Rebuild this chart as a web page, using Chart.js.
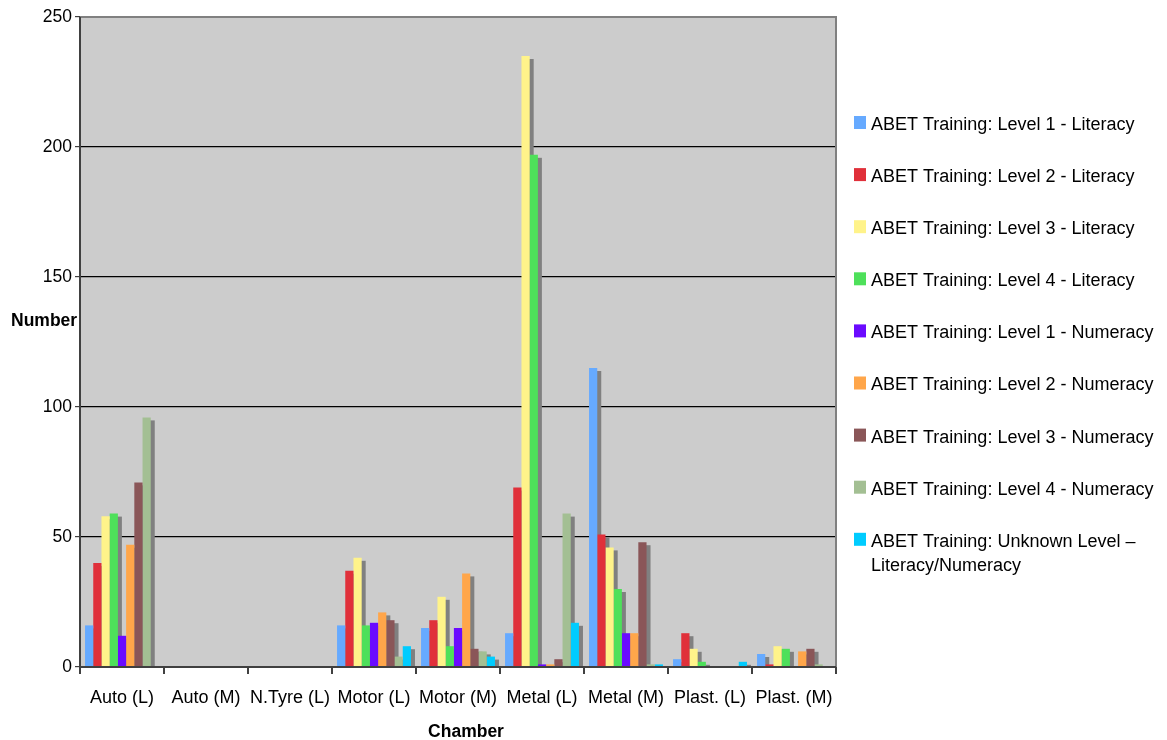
<!DOCTYPE html>
<html>
<head>
<meta charset="utf-8">
<title>ABET Training by Chamber</title>
<script src="https://cdn.jsdelivr.net/npm/chart.js@4/dist/chart.umd.min.js"></script>
<style>
  html, body { margin: 0; padding: 0; background: #ffffff; }
  #wrap { width: 1167px; height: 740px; position: relative; }
</style>
</head>
<body>
<div id="wrap"><canvas id="chart" width="1167" height="740"></canvas></div>
<script>
// Chambers along the x axis
const chambers = ['Auto (L)', 'Auto (M)', 'N.Tyre (L)', 'Motor (L)', 'Motor (M)', 'Metal (L)', 'Metal (M)', 'Plast. (L)', 'Plast. (M)'];

// Number of people per training level, one value per chamber
const level1Literacy  = [16, 0, 0, 16, 15, 13, 115, 3, 5];
const level2Literacy  = [40, 0, 0, 37, 18, 69, 51, 13, 1];
const level3Literacy  = [58, 0, 0, 42, 27, 235, 46, 7, 8];
const level4Literacy  = [59, 0, 0, 16, 8, 197, 30, 2, 7];
const level1Numeracy  = [12, 0, 0, 17, 15, 1, 13, 0, 0];
const level2Numeracy  = [47, 0, 0, 21, 36, 1, 13, 0, 6];
const level3Numeracy  = [71, 0, 0, 18, 7, 3, 48, 0, 7];
const level4Numeracy  = [96, 0, 0, 4, 6, 59, 1, 0, 1];
const unknownLevel    = [0, 0, 0, 8, 4, 17, 1, 2, 0];

const seriesLabels = [
  'ABET Training: Level 1 - Literacy',
  'ABET Training: Level 2 - Literacy',
  'ABET Training: Level 3 - Literacy',
  'ABET Training: Level 4 - Literacy',
  'ABET Training: Level 1 - Numeracy',
  'ABET Training: Level 2 - Numeracy',
  'ABET Training: Level 3 - Numeracy',
  'ABET Training: Level 4 - Numeracy',
  'ABET Training: Unknown Level \u2013 Literacy/Numeracy'
];
const seriesValues = [level1Literacy, level2Literacy, level3Literacy, level4Literacy,
  level1Numeracy, level2Numeracy, level3Numeracy, level4Numeracy, unknownLevel];
const seriesColors = ['#66aaff', '#e0303a', '#fff38a', '#4ee05a', '#6a0aff', '#ffa64a', '#8a5658', '#a3bf93', '#00ccff'];

const yTicks = [0, 50, 100, 150, 200, 250];

const FONT = '"Liberation Sans", Arial, sans-serif';

// Gray plot background, drop shadows behind bars, plot frame, titles and legend
const decor = {
  id: 'decor',
  beforeDraw(chart) {
    const { ctx, chartArea: a } = chart;
    ctx.save();
    ctx.fillStyle = '#cccccc';
    ctx.fillRect(a.left, a.top, a.right - a.left, a.bottom - a.top);
    ctx.restore();
  },
  beforeDatasetsDraw(chart) {
    // all shadows first, so every bar sits on top of its neighbour's shadow
    const { ctx, chartArea: a } = chart;
    ctx.save();
    ctx.beginPath();
    ctx.rect(a.left, a.top, a.right - a.left, a.bottom - a.top);
    ctx.clip();
    ctx.fillStyle = '#808080';
    chart.data.datasets.forEach((ds, i) => {
      chart.getDatasetMeta(i).data.forEach(bar => {
        const p = bar.getProps(['x', 'y', 'base', 'width'], true);
        const h = p.base - p.y;
        if (h <= 0) return;
        ctx.fillRect(p.x - p.width / 2 + 4, p.y + 3, p.width, h);
      });
    });
    ctx.restore();
  },
  afterDatasetsDraw(chart) {
    const { ctx, chartArea: a } = chart;
    ctx.save();
    ctx.strokeStyle = '#808080';
    ctx.lineWidth = 2;
    ctx.beginPath();
    ctx.moveTo(a.left, a.top);
    ctx.lineTo(a.right, a.top);
    ctx.lineTo(a.right, a.bottom);
    ctx.stroke();
    ctx.strokeStyle = '#404040';
    ctx.beginPath();
    ctx.moveTo(a.left, a.top);
    ctx.lineTo(a.left, a.bottom);
    ctx.lineTo(a.right, a.bottom);
    ctx.stroke();
    ctx.restore();
  },
  afterDraw(chart) {
    const { ctx, chartArea: a } = chart;
    ctx.save();
    ctx.fillStyle = '#000000';
    ctx.textBaseline = 'middle';
    // axis titles
    ctx.font = 'bold 17.5px ' + FONT;
    ctx.textAlign = 'left';
    ctx.fillText('Number', 11, 321);
    ctx.textAlign = 'center';
    ctx.fillText('Chamber', (a.left + a.right) / 2 + 8, 732);
    // legend
    ctx.font = '18px ' + FONT;
    ctx.textAlign = 'left';
    const x0 = 854, y0 = 124, step = 52.1;
    chart.data.datasets.forEach((ds, i) => {
      const y = y0 + i * step;
      ctx.fillStyle = ds.backgroundColor;
      ctx.fillRect(x0, y - 8, 12, 13);
      ctx.fillStyle = '#000000';
      const parts = ds.label.split(' \u2013 ');
      if (parts.length > 1) {
        ctx.fillText(parts[0] + ' \u2013', x0 + 17, y + 1);
        ctx.fillText(parts[1], x0 + 17, y + 25);
      } else {
        ctx.fillText(ds.label, x0 + 17, y + 1);
      }
    });
    ctx.restore();
  }
};

new Chart(document.getElementById('chart'), {
  type: 'bar',
  data: {
    labels: chambers,
    datasets: seriesValues.map((vals, i) => ({
      label: seriesLabels[i],
      data: vals,
      backgroundColor: seriesColors[i],
      borderWidth: 0,
      barPercentage: 1.0,
      categoryPercentage: 0.88
    }))
  },
  options: {
    responsive: false,
    animation: false,
    layout: { padding: { left: 0, right: 331, top: 17, bottom: 0 } },
    plugins: {
      legend: { display: false },
      tooltip: { enabled: false }
    },
    scales: {
      x: {
        offset: true,
        grid: {
          offset: true,
          drawOnChartArea: false,
          tickLength: 7,
          tickColor: '#404040',
          lineWidth: 2
        },
        border: { display: false },
        ticks: {
          color: '#000000',
          font: { family: FONT, size: 18 },
          padding: 13,
          maxRotation: 0,
          autoSkip: false
        },
        afterFit(scale) { scale.height = 73; }
      },
      y: {
        min: 0,
        max: 250,
        afterBuildTicks(scale) { scale.ticks = yTicks.map(v => ({ value: v })); },
        grid: {
          color: ctx => (ctx.tick && (ctx.tick.value === 0 || ctx.tick.value === 250)) ? 'rgba(0,0,0,0)' : '#000000',
          tickColor: '#404040',
          tickLength: 5,
          lineWidth: 1.2
        },
        border: { display: false },
        ticks: {
          color: '#000000',
          font: { family: FONT, size: 17.5 },
          padding: 3
        },
        afterFit(scale) { scale.width = 80; }
      }
    }
  },
  plugins: [decor]
});
</script>
</body>
</html>
